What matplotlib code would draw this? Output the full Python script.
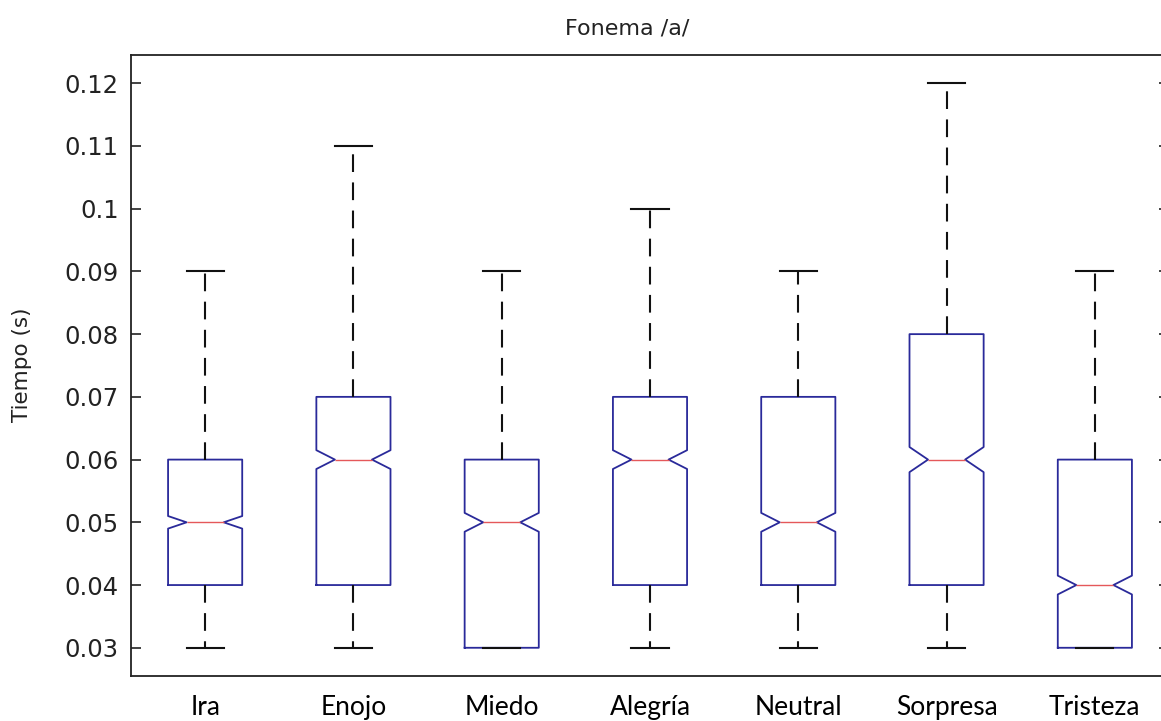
import matplotlib
matplotlib.use('Agg')
import matplotlib.pyplot as plt
from matplotlib.ticker import FuncFormatter

# emotion categories and box statistics (seconds)
emociones = ['Ira', 'Enojo', 'Miedo', 'Alegría', 'Neutral', 'Sorpresa', 'Tristeza']
bigote_inf = [0.03, 0.03, 0.03, 0.03, 0.03, 0.03, 0.03]
cuartil_1 = [0.04, 0.04, 0.03, 0.04, 0.04, 0.04, 0.03]
mediana = [0.05, 0.06, 0.05, 0.06, 0.05, 0.06, 0.04]
cuartil_3 = [0.06, 0.07, 0.06, 0.07, 0.07, 0.08, 0.06]
bigote_sup = [0.09, 0.11, 0.09, 0.10, 0.09, 0.12, 0.09]
muesca = [0.001, 0.0015, 0.0015, 0.0015, 0.0015, 0.002, 0.0015]
yticks = [0.03, 0.04, 0.05, 0.06, 0.07, 0.08, 0.09, 0.10, 0.11, 0.12]

stats = []
for i, nombre in enumerate(emociones):
    stats.append(dict(label=nombre, whislo=bigote_inf[i], q1=cuartil_1[i],
                      med=mediana[i], q3=cuartil_3[i], whishi=bigote_sup[i],
                      cilo=mediana[i] - muesca[i], cihi=mediana[i] + muesca[i],
                      fliers=[]))

fig = plt.figure(figsize=(11.61, 7.21), dpi=100)
W, H = 1161, 721
ax = fig.add_axes([131 / W, 1 - 676 / H, (1169 - 131) / W, (676 - 55) / H])

pos = list(range(1, len(emociones) + 1))
ax.bxp(stats, positions=pos, widths=0.5, shownotches=True, showfliers=False,
       boxprops=dict(color='#2a2a9a', linewidth=1.3),
       medianprops=dict(color='#e5585a', linewidth=1.0),
       whiskerprops=dict(color='#111111', linewidth=1.5, linestyle=(0, (8.5, 5))),
       capprops=dict(color='#111111', linewidth=1.5))

ax.set_xlim(0.5, len(emociones) + 0.5)
ax.set_ylim(0.0255, 0.1245)
ax.set_yticks(yticks)
ax.yaxis.set_major_formatter(FuncFormatter(lambda v, p: '%g' % round(v, 3)))
ax.tick_params(axis='y', direction='in', length=7, width=1.2, right=True,
               labelsize=17.5, pad=9, colors='#222222')
for lab in ax.get_yticklabels():
    lab.set_family('DejaVu Sans')
ax.set_xticks(pos)
ax.set_xticklabels(emociones, family='Lato', fontsize=19)
ax.tick_params(axis='x', length=0, pad=14)
for s in ax.spines.values():
    s.set_linewidth(1.3)
    s.set_color('#222222')

fig.text(627 / W, 1 - 28 / H, 'Fonema /a/', ha='center', va='center', fontsize=16,
         family='DejaVu Sans', color='#222222')
fig.text(22 / W, 1 - 365 / H, 'Tiempo (s)', ha='center', va='center', rotation=90,
         fontsize=15.5, family='DejaVu Sans', color='#222222')

fig.savefig('out.png', dpi=100)
